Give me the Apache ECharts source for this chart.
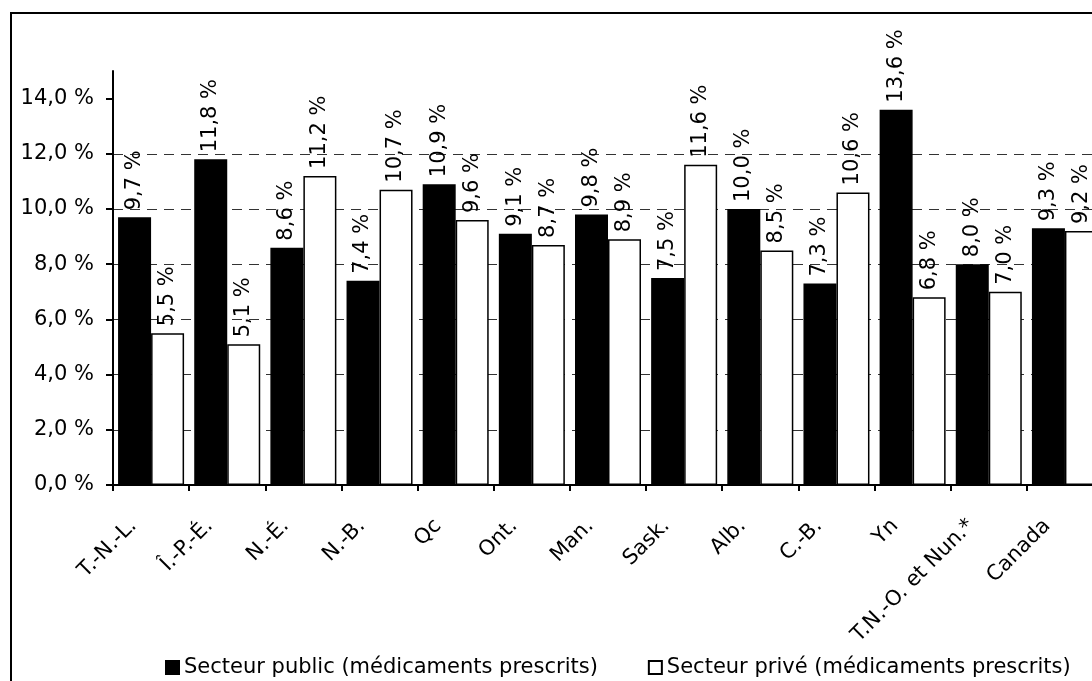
<!DOCTYPE html>
<html>
<head>
<meta charset="utf-8">
<script src="https://cdn.jsdelivr.net/npm/echarts@6/dist/echarts.min.js"></script>
<style>
html, body { margin: 0; padding: 0; overflow: hidden; background: #fff; width: 1092px; height: 681px; }
#c { position: absolute; left: 0; top: 0; width: 1110px; height: 681px; }
</style>
</head>
<body>
<div id="c"></div>
<script>
const categories = ['T.-N.-L.', 'Î.-P.-É.', 'N.-É.', 'N.-B.', 'Qc', 'Ont.', 'Man.', 'Sask.', 'Alb.', 'C.-B.', 'Yn', 'T.N.-O. et Nun.*', 'Canada'];
const publicValues = [9.7, 11.8, 8.6, 7.4, 10.9, 9.1, 9.8, 7.5, 10.0, 7.3, 13.6, 8.0, 9.3];
const privateValues = [5.5, 5.1, 11.2, 10.7, 9.6, 8.7, 8.9, 11.6, 8.5, 10.6, 6.8, 7.0, 9.2];
const yTicks = [0, 2, 4, 6, 8, 10, 12, 14];
const seriesNames = ['Secteur public (médicaments prescrits)', 'Secteur privé (médicaments prescrits)'];

const FONT = 'DejaVu Sans';
const fmt = v => Number(v).toFixed(1).replace('.', ',') + ' %';

const chart = echarts.init(document.getElementById('c'), null, { renderer: 'canvas' });

const labelCfg = {
  show: true,
  position: 'top',
  rotate: 90,
  align: 'left',
  verticalAlign: 'middle',
  distance: 7,
  color: '#000',
  fontFamily: FONT,
  fontSize: 21,
  formatter: p => fmt(p.value)
};

chart.setOption({
  animation: false,
  backgroundColor: '#fff',
  textStyle: { fontFamily: FONT, color: '#000' },
  graphic: [{
    type: 'rect',
    shape: { x: 11, y: 13, width: 1300, height: 900 },
    style: { fill: 'none', stroke: '#000', lineWidth: 2 },
    silent: true,
    z: 100
  }],
  legend: {
    left: 160,
    top: 652,
    itemWidth: 13,
    itemHeight: 13,
    itemGap: 50,
    selectedMode: false,
    icon: 'rect',
    textStyle: { fontFamily: FONT, fontSize: 21, color: '#000' },
    data: seriesNames
  },
  grid: { left: 113, right: 7, top: 71, bottom: 196, containLabel: false },
  xAxis: {
    type: 'category',
    data: categories,
    boundaryGap: true,
    axisLine: { show: true, lineStyle: { color: '#000', width: 2 } },
    axisTick: { show: true, alignWithLabel: false, length: 6, lineStyle: { color: '#000', width: 2 } },
    axisLabel: {
      interval: 0,
      rotate: 45,
      margin: 20,
      padding: [0, 25, 0, 0],
      fontFamily: FONT,
      fontSize: 21,
      color: '#000'
    },
    splitLine: { show: false }
  },
  yAxis: {
    type: 'value',
    min: 0,
    max: 15,
    interval: 2,
    axisLine: { show: true, lineStyle: { color: '#000', width: 2 } },
    axisTick: { show: true, length: 7, inside: false, customValues: yTicks, lineStyle: { color: '#000', width: 2 } },
    axisLabel: {
      customValues: yTicks,
      margin: 19,
      fontFamily: FONT,
      fontSize: 21,
      color: '#000',
      formatter: v => fmt(v)
    },
    splitLine: {
      show: true,
      showMinLine: false,
      showMaxLine: false,
      lineStyle: { color: '#333', width: 1, type: [10, 7] }
    }
  },
  series: [
    {
      name: seriesNames[0],
      type: 'bar',
      data: publicValues,
      barWidth: 33,
      barGap: '0%',
      itemStyle: { color: '#000', borderColor: '#000', borderWidth: 1.5 },
      label: labelCfg
    },
    {
      name: seriesNames[1],
      type: 'bar',
      data: privateValues,
      barWidth: 33,
      barGap: '0%',
      itemStyle: { color: '#fff', borderColor: '#000', borderWidth: 1.5 },
      label: labelCfg
    }
  ]
});
</script>
</body>
</html>
